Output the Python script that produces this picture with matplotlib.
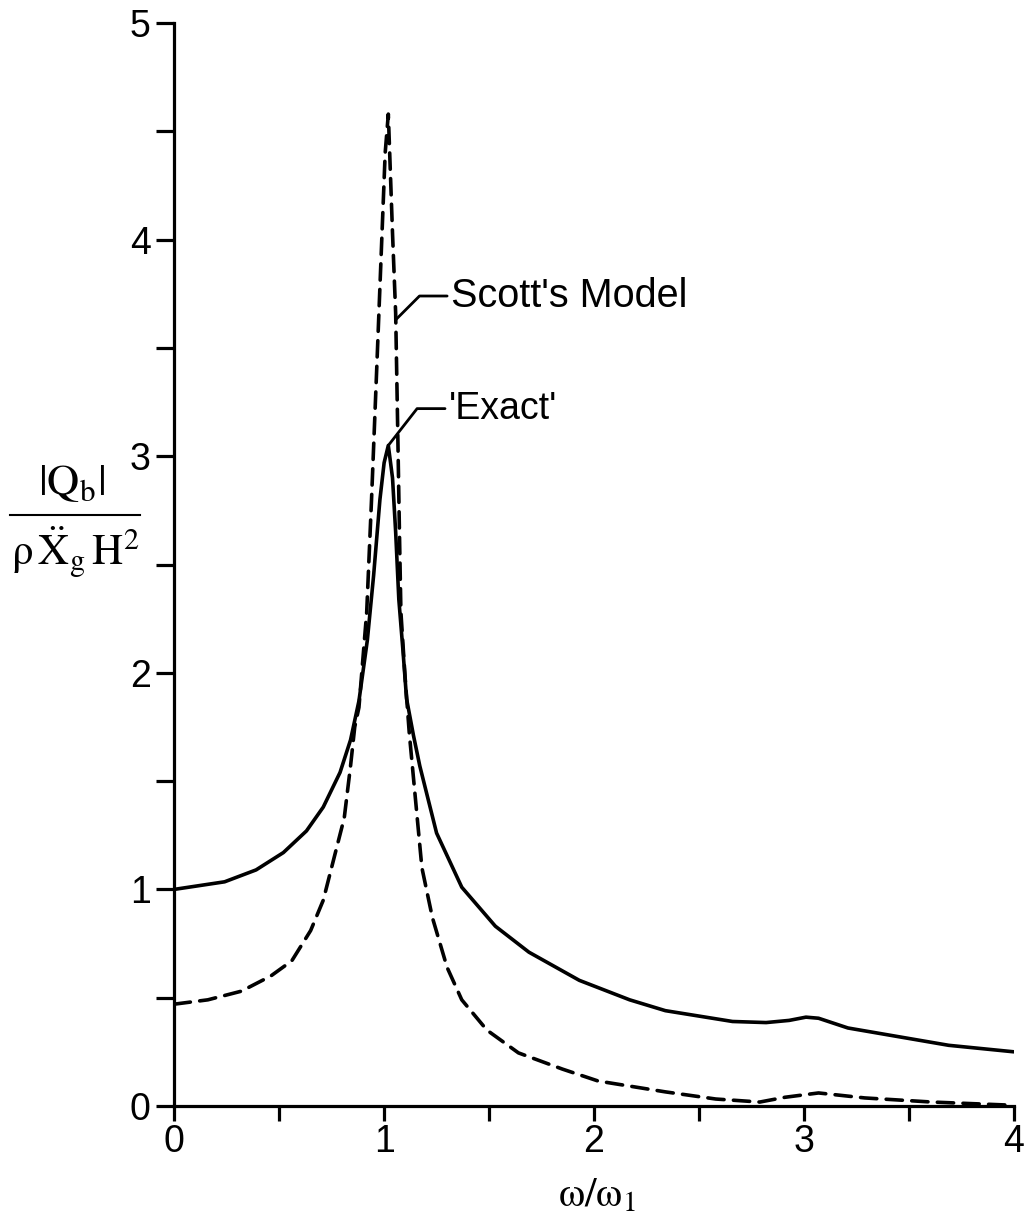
import numpy as np
import matplotlib
matplotlib.use("Agg")
import matplotlib.pyplot as plt

# ---- data ----
exact_x = [0.0, 0.24, 0.39, 0.52, 0.63, 0.71, 0.79, 0.84, 0.88, 0.92, 0.95, 0.98,
           1.0, 1.02, 1.04, 1.055, 1.07, 1.09, 1.107, 1.14, 1.17, 1.25, 1.37, 1.53,
           1.69, 1.93, 2.17, 2.34, 2.66, 2.82, 2.93, 3.01, 3.07, 3.21, 3.45,
           3.69, 4.0]
exact_y = [1.0, 1.035, 1.09, 1.17, 1.27, 1.38, 1.54, 1.69, 1.87, 2.15, 2.45, 2.8,
           2.97, 3.05, 2.9, 2.65, 2.34, 2.1, 1.88, 1.71, 1.57, 1.26, 1.01, 0.83,
           0.71, 0.58, 0.49, 0.44, 0.39, 0.385, 0.395, 0.41, 0.405, 0.36, 0.32,
           0.28, 0.25]

scott_x = [0.0, 0.16, 0.32, 0.46, 0.56, 0.65, 0.71, 0.76, 0.81, 0.84, 0.86, 0.88,
           0.917, 0.94, 0.965, 0.99, 1.005, 1.02, 1.04, 1.055, 1.065, 1.073,
           1.08, 1.1, 1.12, 1.15, 1.18, 1.23, 1.30, 1.37, 1.49, 1.64, 1.85,
           2.02, 2.34, 2.58, 2.79, 2.91, 3.07, 3.29, 3.61, 4.0]
scott_y = [0.47, 0.49, 0.53, 0.60, 0.67, 0.81, 0.95, 1.14, 1.33, 1.57, 1.75, 1.84,
           2.28, 2.8, 3.41, 4.03, 4.4, 4.58, 4.03, 3.66, 3.11, 2.65,
           2.28, 1.98, 1.72, 1.41, 1.10, 0.87, 0.64, 0.49, 0.35, 0.245, 0.17,
           0.115, 0.065, 0.032, 0.018, 0.04, 0.06, 0.037, 0.018, 0.003]

x_ticks = [0, 1, 2, 3, 4]
y_ticks = [0, 1, 2, 3, 4, 5]
label_exact = "'Exact'"
label_scott = "Scott's Model"

plt.rcParams['font.family'] = ['Liberation Sans', 'DejaVu Sans']
plt.rcParams['mathtext.fontset'] = 'stix'

fig = plt.figure(figsize=(10.25, 12.18), dpi=100)
ax = fig.add_axes([0.170, 0.092, 0.819, 0.889])

ax.plot(exact_x, exact_y, color='black', lw=2.6, solid_capstyle='round',
        solid_joinstyle='round')
ax.plot(scott_x, scott_y, color='black', lw=2.6, linestyle=(0, (4.5, 2.6)),
        dash_capstyle='round', dash_joinstyle='round')

ax.set_xlim(0, 4)
ax.set_ylim(0, 5)
for s in ['top', 'right']:
    ax.spines[s].set_visible(False)
for s in ['left', 'bottom']:
    ax.spines[s].set_linewidth(2.3)

ax.set_xticks(x_ticks)
ax.set_yticks(y_ticks)
ax.set_xticks(np.arange(0.5, 4, 1.0), minor=True)
ax.set_yticks(np.arange(0.5, 5, 1.0), minor=True)
ax.tick_params(axis='y', which='both', direction='out', length=13, width=2.3,
               labelsize=27, pad=4)
ax.tick_params(axis='x', which='both', direction='out', length=11, width=2.3,
               labelsize=27, pad=2)

# annotations
ax.annotate(label_scott, xy=(1.055, 3.63), xytext=(1.32, 3.74),
            fontsize=28.5, ha='left', va='center',
            arrowprops=dict(arrowstyle='-', lw=2.0, color='black',
                            shrinkA=1, shrinkB=0,
                            connectionstyle='angle,angleA=0,angleB=45,rad=0'))
ax.annotate(label_exact, xy=(1.02, 3.05), xytext=(1.31, 3.22),
            fontsize=27, ha='left', va='center',
            arrowprops=dict(arrowstyle='-', lw=2.0, color='black',
                            shrinkA=1, shrinkB=0,
                            connectionstyle='angle,angleA=0,angleB=52,rad=0'))

# axis labels
fig.text(597/1025, 1 - 1195/1218, r'$\mathrm{ω/ω}_1$', fontsize=30,
         ha='center', va='center')
fig.text(72/1025, 1 - 484/1218, r'$|\mathrm{Q}_\mathrm{b}|$', fontsize=32,
         ha='center', va='center')
fig.text(75/1025, 1 - 552/1218, r'$\mathrm{ρ}\,\ddot{\mathrm{X}}_\mathrm{g}\,\mathrm{H}^2$',
         fontsize=31, ha='center', va='center')
fig.add_artist(plt.Line2D([10/1025, 140/1025], [1 - 515/1218, 1 - 515/1218],
                          transform=fig.transFigure, color='black', lw=1.5))

fig.savefig('out.png', dpi=100, facecolor='white')
